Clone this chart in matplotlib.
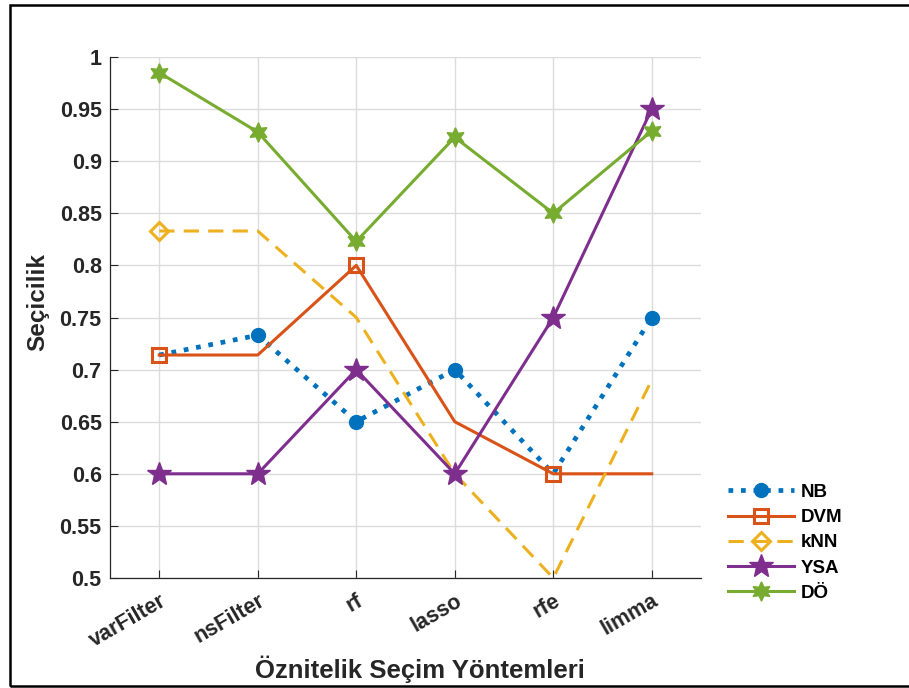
import matplotlib
matplotlib.use("Agg")
import matplotlib.pyplot as plt
from matplotlib.patches import Rectangle
import numpy as np

plt.rcParams['font.family'] = ['Liberation Sans', 'DejaVu Sans']

categories = ['varFilter', 'nsFilter', 'rf', 'lasso', 'rfe', 'limma']
nb = [0.714, 0.733, 0.65, 0.70, 0.60, 0.75]
dvm = [0.714, 0.714, 0.80, 0.65, 0.60, 0.60]
knn = [0.833, 0.833, 0.75, 0.60, 0.50, 0.69]
ysa = [0.60, 0.60, 0.70, 0.60, 0.75, 0.95]
do = [0.985, 0.928, 0.823, 0.923, 0.85, 0.929]
yticks = [0.5, 0.55, 0.6, 0.65, 0.7, 0.75, 0.8, 0.85, 0.9, 0.95, 1.0]
ytick_labels = ['0.5', '0.55', '0.6', '0.65', '0.7', '0.75', '0.8', '0.85', '0.9', '0.95', '1']

fig = plt.figure(figsize=(9.09, 6.88), dpi=100)
ax = fig.add_axes([110/909, 1-578/688, (701-110)/909, (578-57)/688])

x = np.arange(1, len(categories)+1)
ax.plot(x, nb, color='#0072BD', ls=':', lw=3.4, marker='o', ms=10, markevery=[1, 2, 3, 5], label='NB')
ax.plot(x, dvm, color='#D95319', ls='-', lw=2.2, marker='s', ms=10, mfc='none', mew=2.2, markevery=[0, 2, 4], label='DVM')
ax.plot(x, knn, color='#EDB120', ls=(0, (5, 3)), lw=2.2, marker='D', ms=9, mfc='none', mew=2.2, markevery=[0], label='kNN')
ax.plot(x, ysa, color='#7E2F8E', ls='-', lw=2.2, marker='*', ms=18, label='YSA')
ax.plot(x, do, color='#77AC30', ls='-', lw=2.2, marker=(6, 1, 0), ms=14, label='DÖ')

ax.set_xlim(0.5, 6.5)
ax.set_ylim(0.5, 1.0)
ax.set_xticks(x)
ax.set_xticklabels(categories, rotation=30, ha='right', rotation_mode='anchor', fontsize=15.5, fontweight='bold', color='#262626')
ax.set_yticks(yticks)
ax.set_yticklabels(ytick_labels, fontsize=15.5, fontweight='bold', color='#262626')
ax.tick_params(direction='in', length=6, width=0.8, colors='#262626', pad=6)
ax.tick_params(axis='x', pad=9)
ax.grid(True, color='#dcdcdc', lw=1)
ax.set_axisbelow(True)
for s in ['top', 'right']:
    ax.spines[s].set_visible(False)
for s in ['left', 'bottom']:
    ax.spines[s].set_color('#262626')
    ax.spines[s].set_linewidth(0.9)

ax.set_ylabel('Seçicilik', fontsize=17.5, fontweight='bold', color='#262626')
ax.yaxis.set_label_coords(-0.102, 0.53)
ax.set_xlabel('Öznitelik Seçim Yöntemleri', fontsize=18.5, fontweight='bold', color='#262626')
ax.xaxis.set_label_coords(0.525, -0.148)

leg = ax.legend(loc='upper left', bbox_to_anchor=(1.0175, 0.213), frameon=False,
                prop={'weight': 'bold', 'size': 13.5}, handlelength=3.5, labelspacing=0.43,
                handletextpad=0.37, borderpad=0.4)

fig.patches.append(Rectangle((10/909, 2/688), 1.2, 681/688, transform=fig.transFigure,
                             fill=False, ec='black', lw=1.8))

fig.savefig('out.png', dpi=100)
